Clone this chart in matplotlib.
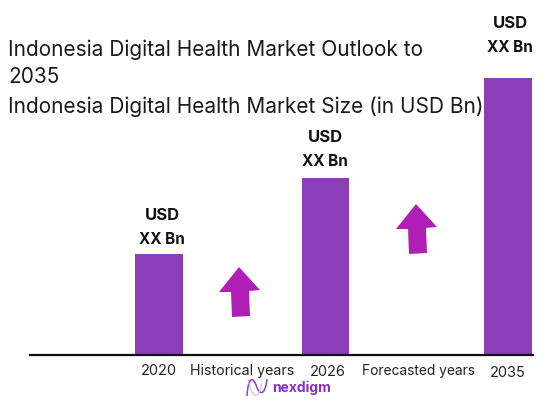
import matplotlib
matplotlib.use("Agg")
import matplotlib.pyplot as plt
from matplotlib.patches import Polygon, PathPatch
from matplotlib.path import Path

years = ["2020", "2026", "2035"]
sizes = [101, 177, 277]
bar_labels = [("USD", "XX Bn"), ("USD", "XX Bn"), ("USD", "XX Bn")]
period_labels = ["Historical years", "Forecasted years"]

BAR_COLOR = "#8a3fb8"
ARROW_COLOR = "#b01fb5"
FONT = "Inter"


def draw_arrow(ax, tip_x, tip_y):
    # slightly tilted block arrow, offsets in pixels from the tip
    offsets = [(0, 0), (21, 23), (10, 24), (11, 49), (-7, 50), (-8, 25), (-20, 25)]
    pts = [(tip_x + dx, tip_y - dy) for dx, dy in offsets]
    ax.add_patch(Polygon(pts, closed=True, facecolor=ARROW_COLOR, edgecolor="none"))


def draw_logo(ax):
    verts = [(247, -41), (248, -24), (252, -20), (256, -30),
             (259, -40), (265, -42), (267, -24)]
    codes = [Path.MOVETO] + [Path.CURVE4] * 6
    ax.add_patch(PathPatch(Path(verts, codes), facecolor="none",
                           edgecolor="#8a3fc8", linewidth=1.1))
    verts2 = [(248, -24), (252, -44), (258, -46), (262, -28)]
    ax.add_patch(PathPatch(Path(verts2, [Path.MOVETO] + [Path.CURVE4] * 3),
                           facecolor="none", edgecolor="#d9b8e8", linewidth=0.8))
    ax.text(272, -33, "nexdigm", fontsize=10, fontweight="bold", color="#8a2fc4",
            family=FONT, ha="left", va="center")


def main():
    fig = plt.figure(figsize=(5.57, 4.07), dpi=100)
    ax = fig.add_axes([0, 0, 1, 1])
    ax.set_xlim(0, 557)
    ax.set_ylim(-52, 355)
    ax.axis("off")

    bar_x = [159, 325.5, 508]
    ax.bar(bar_x, sizes, width=47.5, color=BAR_COLOR, zorder=2)
    ax.plot([30, 533], [0, 0], color="#111111", linewidth=1.6, zorder=3)

    # value labels sit further above the 2035 bar than the others
    label_x = [162, 325, 510]
    label_gap = [14, 16, 31]
    for x, h, gap, (top, bottom) in zip(label_x, sizes, label_gap, bar_labels):
        ax.text(x, h + gap, bottom, fontsize=11, fontweight="bold",
                family=FONT, ha="center", va="center", color="#111111")
        ax.text(x, h + gap + 24, top, fontsize=12, fontweight="bold",
                family=FONT, ha="center", va="center", color="#111111")

    for x, y, year in zip([159, 328, 508], [-16, -17, -18], years):
        ax.text(x, y, year, fontsize=10.5, family=FONT, ha="center", va="center", color="#222222")
    ax.text(242, -16, period_labels[0], fontsize=10.2, family=FONT, ha="center", va="center", color="#222222")
    ax.text(419, -16, period_labels[1], fontsize=9.9, family=FONT, ha="center", va="center", color="#222222")

    draw_arrow(ax, 239, 355 - 267)
    draw_arrow(ax, 416, 355 - 204)
    draw_logo(ax)

    title_lines = ["Indonesia Digital Health Market Outlook to", "2035",
                   "Indonesia Digital Health Market Size (in USD Bn)"]
    for line, y in zip(title_lines, [50, 77, 107]):
        ax.text(8, 355 - y, line, fontsize=15, family=FONT, ha="left", va="center", color="#1a1a1a")

    fig.savefig("out.png", dpi=100, facecolor="white")


if __name__ == "__main__":
    main()
